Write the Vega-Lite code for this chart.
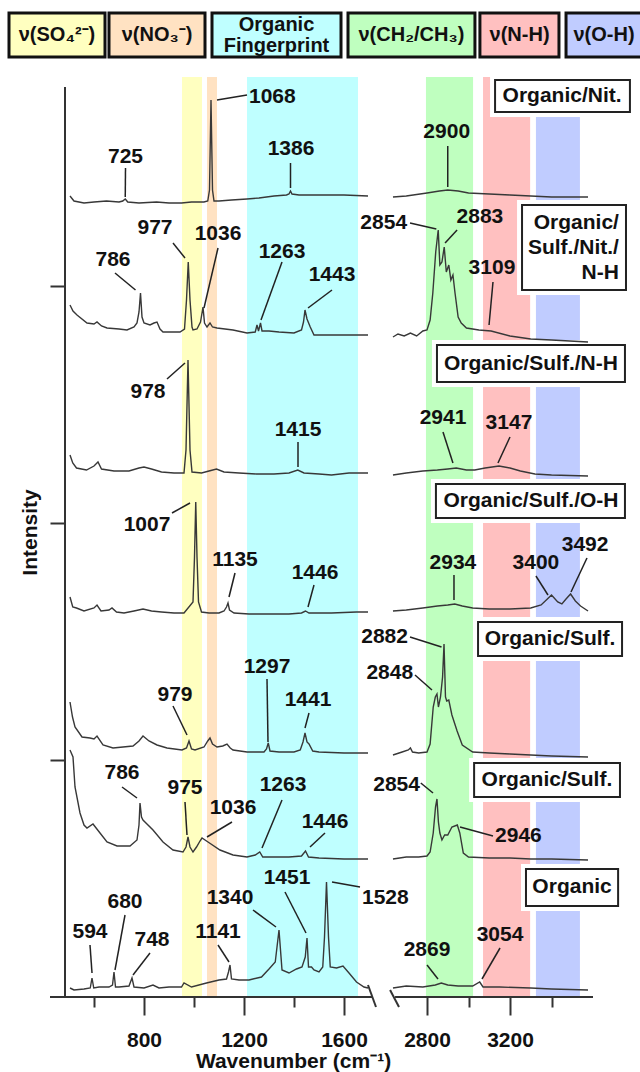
{
"$schema": "https://vega.github.io/schema/vega-lite/v6.json",
"width": 528, "height": 920,
"autosize": {"type": "none"},
"padding": {"left": 65, "top": 77, "right": 47, "bottom": 75},
"background": "white",
"config": {"view": {"stroke": null}, "font": "Liberation Sans"},
"resolve": {"axis": {"x": "independent", "y": "independent"}},
"datasets": {
"bands": [{"b":"SO4","x1":952,"x2":1032},{"b":"NO3","x1":1052,"x2":1092},{"b":"FP","x1":1212,"x2":1656},{"b":"CH","x1":2795,"x2":3022},{"b":"NH","x1":3070,"x2":3297},{"b":"OH","x1":3325,"x2":3537}],
"header": [{"b":"SO4","x1":260,"x2":644,"tx":452,"ty":962,"t":"ν(SO₄²⁻)"},{"b":"NO3","x1":660,"x2":1044,"tx":852,"ty":962,"t":"ν(NO₃⁻)"},{"b":"FP","x1":1072,"x2":1588,"tx":1330,"ty":972,"t":"Organic\nFingerprint"},{"b":"CH","x1":1616,"x2":3031,"tx":2725,"ty":962,"t":"ν(CH₂/CH₃)"},{"b":"NH","x1":3055,"x2":3436,"tx":3246,"ty":962,"t":"ν(N-H)"},{"b":"OH","x1":3470,"x2":3851,"tx":3653,"ty":962,"t":"ν(O-H)"}],
"boxes": [{"x1":3128,"x2":3778,"y1":917,"y2":885},{"x1":3258,"x2":3759,"y1":792,"y2":707},{"x1":2848,"x2":3754,"y1":652,"y2":615},{"x1":2843,"x2":3754,"y1":513,"y2":479},{"x1":3046,"x2":3740,"y1":375,"y2":341},{"x1":3027,"x2":3730,"y1":234,"y2":200},{"x1":3277,"x2":3721,"y1":128,"y2":91}],
"boxtext": [{"x":3451,"y":901,"t":"Organic/Nit."},{"x":3301,"y":633,"t":"Organic/Sulf./N-H"},{"x":3301,"y":496,"t":"Organic/Sulf./O-H"},{"x":3393,"y":358,"t":"Organic/Sulf."},{"x":3378,"y":217,"t":"Organic/Sulf."},{"x":3499,"y":110,"t":"Organic"}],
"boxtext3": [{"x":3725,"y":774,"t":"Organic/\nSulf./Nit./\nN-H"}],
"labelsC": [{"x":726,"y":840,"t":"725"},{"x":1388,"y":848,"t":"1386"},{"x":2895,"y":865,"t":"2900"},
{"x":676,"y":737,"t":"786"},{"x":844,"y":769,"t":"977"},{"x":1096,"y":763,"t":"1036"},{"x":1352,"y":745,"t":"1263"},{"x":1552,"y":722,"t":"1443"},{"x":3055,"y":780,"t":"2883"},{"x":3113,"y":729,"t":"3109"},
{"x":816,"y":605,"t":"978"},{"x":1416,"y":567,"t":"1415"},{"x":2877,"y":579,"t":"2941"},{"x":3195,"y":574,"t":"3147"},
{"x":812,"y":472,"t":"1007"},{"x":1164,"y":437,"t":"1135"},{"x":1484,"y":424,"t":"1446"},{"x":2925,"y":434,"t":"2934"},{"x":3325,"y":434,"t":"3400"},{"x":3562,"y":452,"t":"3492"},
{"x":924,"y":302,"t":"979"},{"x":1292,"y":330,"t":"1297"},{"x":1456,"y":297,"t":"1441"},
{"x":712,"y":224,"t":"786"},{"x":964,"y":209,"t":"975"},{"x":1156,"y":189,"t":"1036"},{"x":1356,"y":212,"t":"1263"},{"x":1524,"y":175,"t":"1446"},
{"x":584,"y":65,"t":"594"},{"x":724,"y":95,"t":"680"},{"x":832,"y":57,"t":"748"},{"x":1096,"y":65,"t":"1141"},{"x":1144,"y":99,"t":"1340"},{"x":1372,"y":119,"t":"1451"},{"x":2800,"y":47,"t":"2869"},{"x":3152,"y":62,"t":"3054"}],
"labelsL": [{"x":1220,"y":900,"t":"1068"},{"x":3128,"y":161,"t":"2946"},{"x":1672,"y":99,"t":"1528"}],
"labelsR": [{"x":2704,"y":774,"t":"2854"},{"x":2708,"y":360,"t":"2882"},{"x":2733,"y":324,"t":"2848"},{"x":2766,"y":212,"t":"2854"}],
"leaders": [{"x1":726,"y1":829,"x2":725,"y2":800},{"x1":1092,"y1":897,"x2":1212,"y2":902},{"x1":1386,"y1":834,"x2":1386,"y2":809},{"x1":2900,"y1":851,"x2":2900,"y2":810},
{"x1":684,"y1":724,"x2":766,"y2":707},{"x1":916,"y1":754,"x2":964,"y2":739},{"x1":1096,"y1":749,"x2":1040,"y2":689},{"x1":1352,"y1":735,"x2":1268,"y2":677},{"x1":1552,"y1":707,"x2":1456,"y2":689},{"x1":2718,"y1":774,"x2":2845,"y2":768},{"x1":2945,"y1":767,"x2":2887,"y2":754},{"x1":3118,"y1":715,"x2":3099,"y2":672},
{"x1":892,"y1":618,"x2":964,"y2":634},{"x1":1416,"y1":555,"x2":1416,"y2":530},{"x1":2877,"y1":565,"x2":2925,"y2":534},{"x1":3200,"y1":560,"x2":3142,"y2":534},
{"x1":912,"y1":484,"x2":984,"y2":494},{"x1":1164,"y1":424,"x2":1140,"y2":400},{"x1":1480,"y1":412,"x2":1456,"y2":390},{"x1":2930,"y1":422,"x2":2930,"y2":397},{"x1":3325,"y1":421,"x2":3383,"y2":402},{"x1":3571,"y1":439,"x2":3494,"y2":405},
{"x1":916,"y1":291,"x2":972,"y2":262},{"x1":1292,"y1":318,"x2":1296,"y2":255},{"x1":1460,"y1":284,"x2":1444,"y2":269},{"x1":2718,"y1":360,"x2":2870,"y2":350},{"x1":2742,"y1":322,"x2":2824,"y2":307},
{"x1":712,"y1":210,"x2":772,"y2":199},{"x1":964,"y1":195,"x2":972,"y2":162},{"x1":1152,"y1":175,"x2":1052,"y2":160},{"x1":1352,"y1":197,"x2":1272,"y2":149},{"x1":1524,"y1":164,"x2":1464,"y2":150},{"x1":2770,"y1":214,"x2":2829,"y2":204},{"x1":3118,"y1":161,"x2":2959,"y2":170},
{"x1":584,"y1":52,"x2":592,"y2":24},{"x1":724,"y1":82,"x2":684,"y2":27},{"x1":824,"y1":44,"x2":756,"y2":22},{"x1":1096,"y1":52,"x2":1140,"y2":35},{"x1":1236,"y1":87,"x2":1328,"y2":70},{"x1":1364,"y1":105,"x2":1448,"y2":64},{"x1":1552,"y1":115,"x2":1664,"y2":110},{"x1":2800,"y1":32,"x2":2853,"y2":18},{"x1":3152,"y1":49,"x2":3065,"y2":18}],
"axlines": [{"x1":424,"x2":1712},{"x1":2646,"x2":3600}],
"breaks": [{"x1":1696,"y1":12,"x2":1792,"y2":-10},{"x1":2622,"y1":7,"x2":2665,"y2":-10}],
"spectra": [
{"g":"1L","x":504,"y":801},{"g":"1L","x":520,"y":796},{"g":"1L","x":560,"y":794},{"g":"1L","x":600,"y":795},{"g":"1L","x":650,"y":796},{"g":"1L","x":700,"y":795},{"g":"1L","x":715,"y":796},{"g":"1L","x":725,"y":798},{"g":"1L","x":735,"y":795},{"g":"1L","x":780,"y":794},{"g":"1L","x":850,"y":795},{"g":"1L","x":900,"y":794},{"g":"1L","x":950,"y":794},{"g":"1L","x":990,"y":795},{"g":"1L","x":1040,"y":795},{"g":"1L","x":1055,"y":796},{"g":"1L","x":1062,"y":807},{"g":"1L","x":1068,"y":897},{"g":"1L","x":1074,"y":807},{"g":"1L","x":1080,"y":796},{"g":"1L","x":1100,"y":796},{"g":"1L","x":1150,"y":797},{"g":"1L","x":1212,"y":798},{"g":"1L","x":1260,"y":799},{"g":"1L","x":1320,"y":801},{"g":"1L","x":1370,"y":802},{"g":"1L","x":1380,"y":803},{"g":"1L","x":1386,"y":806},{"g":"1L","x":1392,"y":803},{"g":"1L","x":1420,"y":802},{"g":"1L","x":1500,"y":802},{"g":"1L","x":1600,"y":802},{"g":"1L","x":1696,"y":801},
{"g":"1R","x":2636,"y":800},{"g":"1R","x":2700,"y":801},{"g":"1R","x":2800,"y":804},{"g":"1R","x":2860,"y":806},{"g":"1R","x":2900,"y":807},{"g":"1R","x":2950,"y":806},{"g":"1R","x":3000,"y":804},{"g":"1R","x":3100,"y":803},{"g":"1R","x":3200,"y":802},{"g":"1R","x":3300,"y":801},{"g":"1R","x":3400,"y":800},{"g":"1R","x":3576,"y":800},
{"g":"2L","x":504,"y":692},{"g":"2L","x":516,"y":686},{"g":"2L","x":532,"y":682},{"g":"2L","x":572,"y":674},{"g":"2L","x":600,"y":673},{"g":"2L","x":612,"y":675},{"g":"2L","x":630,"y":671},{"g":"2L","x":652,"y":669},{"g":"2L","x":700,"y":668},{"g":"2L","x":732,"y":667},{"g":"2L","x":760,"y":670},{"g":"2L","x":772,"y":674},{"g":"2L","x":780,"y":685},{"g":"2L","x":786,"y":704},{"g":"2L","x":792,"y":680},{"g":"2L","x":800,"y":674},{"g":"2L","x":824,"y":672},{"g":"2L","x":840,"y":674},{"g":"2L","x":852,"y":675},{"g":"2L","x":864,"y":668},{"g":"2L","x":876,"y":665},{"g":"2L","x":944,"y":665},{"g":"2L","x":962,"y":668},{"g":"2L","x":970,"y":697},{"g":"2L","x":977,"y":735},{"g":"2L","x":984,"y":697},{"g":"2L","x":992,"y":670},{"g":"2L","x":996,"y":667},{"g":"2L","x":1012,"y":668},{"g":"2L","x":1026,"y":675},{"g":"2L","x":1036,"y":690},{"g":"2L","x":1042,"y":674},{"g":"2L","x":1052,"y":670},{"g":"2L","x":1064,"y":674},{"g":"2L","x":1074,"y":670},{"g":"2L","x":1092,"y":669},{"g":"2L","x":1156,"y":667},{"g":"2L","x":1212,"y":664},{"g":"2L","x":1245,"y":665},{"g":"2L","x":1252,"y":672},{"g":"2L","x":1258,"y":666},{"g":"2L","x":1266,"y":674},{"g":"2L","x":1272,"y":666},{"g":"2L","x":1300,"y":666},{"g":"2L","x":1340,"y":665},{"g":"2L","x":1400,"y":664},{"g":"2L","x":1430,"y":667},{"g":"2L","x":1438,"y":675},{"g":"2L","x":1444,"y":687},{"g":"2L","x":1452,"y":678},{"g":"2L","x":1465,"y":670},{"g":"2L","x":1480,"y":662},{"g":"2L","x":1550,"y":662},{"g":"2L","x":1650,"y":662},{"g":"2L","x":1696,"y":662},
{"g":"2R","x":2636,"y":660},{"g":"2R","x":2660,"y":663},{"g":"2R","x":2690,"y":661},{"g":"2R","x":2720,"y":664},{"g":"2R","x":2750,"y":661},{"g":"2R","x":2780,"y":666},{"g":"2R","x":2800,"y":667},{"g":"2R","x":2815,"y":677},{"g":"2R","x":2828,"y":704},{"g":"2R","x":2842,"y":745},{"g":"2R","x":2854,"y":767},{"g":"2R","x":2862,"y":732},{"g":"2R","x":2872,"y":735},{"g":"2R","x":2883,"y":750},{"g":"2R","x":2893,"y":725},{"g":"2R","x":2905,"y":732},{"g":"2R","x":2915,"y":717},{"g":"2R","x":2925,"y":722},{"g":"2R","x":2935,"y":704},{"g":"2R","x":2950,"y":680},{"g":"2R","x":2965,"y":674},{"g":"2R","x":2990,"y":669},{"g":"2R","x":3050,"y":667},{"g":"2R","x":3109,"y":666},{"g":"2R","x":3200,"y":661},{"g":"2R","x":3300,"y":658},{"g":"2R","x":3400,"y":657},{"g":"2R","x":3576,"y":655},
{"g":"3L","x":504,"y":542},{"g":"3L","x":515,"y":534},{"g":"3L","x":530,"y":529},{"g":"3L","x":570,"y":527},{"g":"3L","x":600,"y":531},{"g":"3L","x":616,"y":535},{"g":"3L","x":630,"y":528},{"g":"3L","x":680,"y":526},{"g":"3L","x":740,"y":526},{"g":"3L","x":780,"y":529},{"g":"3L","x":800,"y":530},{"g":"3L","x":830,"y":528},{"g":"3L","x":870,"y":525},{"g":"3L","x":920,"y":524},{"g":"3L","x":960,"y":524},{"g":"3L","x":968,"y":547},{"g":"3L","x":976,"y":637},{"g":"3L","x":984,"y":547},{"g":"3L","x":992,"y":525},{"g":"3L","x":1030,"y":524},{"g":"3L","x":1060,"y":526},{"g":"3L","x":1090,"y":528},{"g":"3L","x":1120,"y":525},{"g":"3L","x":1180,"y":524},{"g":"3L","x":1250,"y":523},{"g":"3L","x":1320,"y":523},{"g":"3L","x":1380,"y":524},{"g":"3L","x":1415,"y":527},{"g":"3L","x":1440,"y":524},{"g":"3L","x":1500,"y":523},{"g":"3L","x":1550,"y":522},{"g":"3L","x":1620,"y":524},{"g":"3L","x":1696,"y":524},
{"g":"3R","x":2636,"y":522},{"g":"3R","x":2700,"y":524},{"g":"3R","x":2780,"y":526},{"g":"3R","x":2850,"y":527},{"g":"3R","x":2900,"y":528},{"g":"3R","x":2941,"y":529},{"g":"3R","x":2990,"y":527},{"g":"3R","x":3030,"y":527},{"g":"3R","x":3080,"y":529},{"g":"3R","x":3147,"y":531},{"g":"3R","x":3200,"y":529},{"g":"3R","x":3250,"y":526},{"g":"3R","x":3320,"y":523},{"g":"3R","x":3400,"y":522},{"g":"3R","x":3576,"y":521},
{"g":"4L","x":504,"y":400},{"g":"4L","x":515,"y":390},{"g":"4L","x":530,"y":389},{"g":"4L","x":560,"y":386},{"g":"4L","x":600,"y":389},{"g":"4L","x":612,"y":392},{"g":"4L","x":628,"y":386},{"g":"4L","x":660,"y":387},{"g":"4L","x":672,"y":389},{"g":"4L","x":690,"y":385},{"g":"4L","x":720,"y":384},{"g":"4L","x":760,"y":386},{"g":"4L","x":796,"y":388},{"g":"4L","x":830,"y":386},{"g":"4L","x":870,"y":385},{"g":"4L","x":920,"y":384},{"g":"4L","x":960,"y":384},{"g":"4L","x":996,"y":395},{"g":"4L","x":1002,"y":440},{"g":"4L","x":1007,"y":495},{"g":"4L","x":1012,"y":440},{"g":"4L","x":1018,"y":395},{"g":"4L","x":1030,"y":385},{"g":"4L","x":1060,"y":384},{"g":"4L","x":1100,"y":384},{"g":"4L","x":1120,"y":386},{"g":"4L","x":1130,"y":390},{"g":"4L","x":1136,"y":394},{"g":"4L","x":1142,"y":387},{"g":"4L","x":1160,"y":384},{"g":"4L","x":1220,"y":383},{"g":"4L","x":1300,"y":383},{"g":"4L","x":1380,"y":383},{"g":"4L","x":1430,"y":384},{"g":"4L","x":1446,"y":386},{"g":"4L","x":1460,"y":384},{"g":"4L","x":1550,"y":384},{"g":"4L","x":1650,"y":385},{"g":"4L","x":1696,"y":385},
{"g":"4R","x":2636,"y":386},{"g":"4R","x":2700,"y":387},{"g":"4R","x":2780,"y":389},{"g":"4R","x":2850,"y":391},{"g":"4R","x":2900,"y":392},{"g":"4R","x":2934,"y":393},{"g":"4R","x":2970,"y":391},{"g":"4R","x":3020,"y":389},{"g":"4R","x":3100,"y":388},{"g":"4R","x":3200,"y":388},{"g":"4R","x":3300,"y":389},{"g":"4R","x":3350,"y":392},{"g":"4R","x":3380,"y":398},{"g":"4R","x":3400,"y":402},{"g":"4R","x":3430,"y":395},{"g":"4R","x":3450,"y":393},{"g":"4R","x":3470,"y":398},{"g":"4R","x":3492,"y":403},{"g":"4R","x":3515,"y":396},{"g":"4R","x":3540,"y":391},{"g":"4R","x":3576,"y":386},
{"g":"5L","x":504,"y":295},{"g":"5L","x":514,"y":280},{"g":"5L","x":524,"y":270},{"g":"5L","x":552,"y":260},{"g":"5L","x":584,"y":259},{"g":"5L","x":600,"y":258},{"g":"5L","x":612,"y":261},{"g":"5L","x":636,"y":252},{"g":"5L","x":676,"y":249},{"g":"5L","x":756,"y":251},{"g":"5L","x":780,"y":256},{"g":"5L","x":796,"y":261},{"g":"5L","x":820,"y":256},{"g":"5L","x":852,"y":252},{"g":"5L","x":892,"y":249},{"g":"5L","x":952,"y":247},{"g":"5L","x":970,"y":249},{"g":"5L","x":980,"y":256},{"g":"5L","x":990,"y":248},{"g":"5L","x":1004,"y":247},{"g":"5L","x":1040,"y":250},{"g":"5L","x":1055,"y":256},{"g":"5L","x":1064,"y":259},{"g":"5L","x":1074,"y":253},{"g":"5L","x":1092,"y":250},{"g":"5L","x":1115,"y":251},{"g":"5L","x":1132,"y":253},{"g":"5L","x":1145,"y":249},{"g":"5L","x":1156,"y":247},{"g":"5L","x":1212,"y":245},{"g":"5L","x":1280,"y":245},{"g":"5L","x":1290,"y":248},{"g":"5L","x":1297,"y":254},{"g":"5L","x":1304,"y":246},{"g":"5L","x":1340,"y":245},{"g":"5L","x":1400,"y":245},{"g":"5L","x":1425,"y":247},{"g":"5L","x":1436,"y":255},{"g":"5L","x":1444,"y":264},{"g":"5L","x":1452,"y":255},{"g":"5L","x":1460,"y":253},{"g":"5L","x":1475,"y":246},{"g":"5L","x":1500,"y":245},{"g":"5L","x":1600,"y":244},{"g":"5L","x":1696,"y":244},
{"g":"5R","x":2636,"y":242},{"g":"5R","x":2680,"y":245},{"g":"5R","x":2710,"y":247},{"g":"5R","x":2720,"y":249},{"g":"5R","x":2730,"y":245},{"g":"5R","x":2760,"y":244},{"g":"5R","x":2800,"y":245},{"g":"5R","x":2815,"y":253},{"g":"5R","x":2830,"y":290},{"g":"5R","x":2840,"y":300},{"g":"5R","x":2848,"y":303},{"g":"5R","x":2855,"y":290},{"g":"5R","x":2865,"y":300},{"g":"5R","x":2875,"y":320},{"g":"5R","x":2882,"y":353},{"g":"5R","x":2889,"y":300},{"g":"5R","x":2895,"y":296},{"g":"5R","x":2905,"y":297},{"g":"5R","x":2920,"y":282},{"g":"5R","x":2945,"y":266},{"g":"5R","x":2970,"y":252},{"g":"5R","x":3020,"y":245},{"g":"5R","x":3100,"y":244},{"g":"5R","x":3200,"y":243},{"g":"5R","x":3300,"y":242},{"g":"5R","x":3400,"y":241},{"g":"5R","x":3576,"y":240},
{"g":"6L","x":504,"y":247},{"g":"6L","x":516,"y":240},{"g":"6L","x":524,"y":210},{"g":"6L","x":544,"y":184},{"g":"6L","x":560,"y":172},{"g":"6L","x":572,"y":169},{"g":"6L","x":596,"y":173},{"g":"6L","x":624,"y":164},{"g":"6L","x":652,"y":155},{"g":"6L","x":692,"y":151},{"g":"6L","x":744,"y":151},{"g":"6L","x":772,"y":157},{"g":"6L","x":780,"y":172},{"g":"6L","x":784,"y":194},{"g":"6L","x":790,"y":180},{"g":"6L","x":796,"y":177},{"g":"6L","x":836,"y":167},{"g":"6L","x":876,"y":155},{"g":"6L","x":916,"y":147},{"g":"6L","x":956,"y":145},{"g":"6L","x":968,"y":150},{"g":"6L","x":976,"y":160},{"g":"6L","x":984,"y":150},{"g":"6L","x":996,"y":145},{"g":"6L","x":1010,"y":150},{"g":"6L","x":1024,"y":156},{"g":"6L","x":1032,"y":159},{"g":"6L","x":1056,"y":155},{"g":"6L","x":1104,"y":147},{"g":"6L","x":1156,"y":142},{"g":"6L","x":1212,"y":140},{"g":"6L","x":1245,"y":142},{"g":"6L","x":1263,"y":145},{"g":"6L","x":1275,"y":140},{"g":"6L","x":1320,"y":140},{"g":"6L","x":1380,"y":140},{"g":"6L","x":1430,"y":141},{"g":"6L","x":1446,"y":146},{"g":"6L","x":1458,"y":140},{"g":"6L","x":1500,"y":139},{"g":"6L","x":1600,"y":138},{"g":"6L","x":1696,"y":138},
{"g":"6R","x":2636,"y":138},{"g":"6R","x":2700,"y":140},{"g":"6R","x":2760,"y":140},{"g":"6R","x":2800,"y":141},{"g":"6R","x":2815,"y":145},{"g":"6R","x":2830,"y":164},{"g":"6R","x":2841,"y":190},{"g":"6R","x":2848,"y":198},{"g":"6R","x":2855,"y":175},{"g":"6R","x":2862,"y":164},{"g":"6R","x":2872,"y":157},{"g":"6R","x":2885,"y":162},{"g":"6R","x":2900,"y":162},{"g":"6R","x":2920,"y":170},{"g":"6R","x":2946,"y":172},{"g":"6R","x":2958,"y":164},{"g":"6R","x":2975,"y":144},{"g":"6R","x":3000,"y":140},{"g":"6R","x":3100,"y":139},{"g":"6R","x":3200,"y":139},{"g":"6R","x":3300,"y":138},{"g":"6R","x":3400,"y":138},{"g":"6R","x":3576,"y":137},
{"g":"7L","x":504,"y":9},{"g":"7L","x":520,"y":7},{"g":"7L","x":560,"y":8},{"g":"7L","x":585,"y":9},{"g":"7L","x":592,"y":19},{"g":"7L","x":599,"y":9},{"g":"7L","x":620,"y":10},{"g":"7L","x":660,"y":10},{"g":"7L","x":674,"y":12},{"g":"7L","x":680,"y":25},{"g":"7L","x":686,"y":10},{"g":"7L","x":700,"y":10},{"g":"7L","x":740,"y":11},{"g":"7L","x":752,"y":19},{"g":"7L","x":760,"y":10},{"g":"7L","x":800,"y":9},{"g":"7L","x":836,"y":12},{"g":"7L","x":860,"y":9},{"g":"7L","x":900,"y":10},{"g":"7L","x":950,"y":10},{"g":"7L","x":960,"y":14},{"g":"7L","x":990,"y":10},{"g":"7L","x":1050,"y":14},{"g":"7L","x":1100,"y":17},{"g":"7L","x":1130,"y":18},{"g":"7L","x":1138,"y":25},{"g":"7L","x":1144,"y":32},{"g":"7L","x":1150,"y":18},{"g":"7L","x":1180,"y":17},{"g":"7L","x":1220,"y":17},{"g":"7L","x":1270,"y":20},{"g":"7L","x":1300,"y":28},{"g":"7L","x":1325,"y":35},{"g":"7L","x":1340,"y":67},{"g":"7L","x":1352,"y":27},{"g":"7L","x":1380,"y":24},{"g":"7L","x":1410,"y":28},{"g":"7L","x":1432,"y":30},{"g":"7L","x":1445,"y":40},{"g":"7L","x":1452,"y":59},{"g":"7L","x":1458,"y":30},{"g":"7L","x":1470,"y":30},{"g":"7L","x":1480,"y":27},{"g":"7L","x":1500,"y":25},{"g":"7L","x":1515,"y":30},{"g":"7L","x":1522,"y":60},{"g":"7L","x":1530,"y":115},{"g":"7L","x":1538,"y":60},{"g":"7L","x":1545,"y":30},{"g":"7L","x":1570,"y":29},{"g":"7L","x":1596,"y":31},{"g":"7L","x":1620,"y":24},{"g":"7L","x":1650,"y":15},{"g":"7L","x":1680,"y":10},{"g":"7L","x":1696,"y":9},
{"g":"7R","x":2636,"y":9},{"g":"7R","x":2700,"y":11},{"g":"7R","x":2780,"y":10},{"g":"7R","x":2840,"y":12},{"g":"7R","x":2869,"y":14},{"g":"7R","x":2900,"y":12},{"g":"7R","x":2950,"y":11},{"g":"7R","x":3020,"y":11},{"g":"7R","x":3054,"y":15},{"g":"7R","x":3070,"y":10},{"g":"7R","x":3150,"y":10},{"g":"7R","x":3300,"y":9},{"g":"7R","x":3400,"y":8},{"g":"7R","x":3576,"y":7}
]
},
"layer": [
{"data": {"name": "bands"}, "mark": {"type": "rect"},
 "encoding": {
  "x": {"field": "x1", "type": "quantitative",
        "scale": {"type": "linear", "domain": [484, 1724, 2612, 3600], "range": [0, 310, 323, 528], "zero": false, "nice": false},
        "axis": {"orient": "bottom", "values": [600,800,1000,1200,1400,1600,2800,3000,3200,3400], "domain": false, "grid": false,
                 "tickColor": "#333", "tickWidth": 2,
                 "tickSize": {"condition": {"test": "datum.value % 400 === 0", "value": 18}, "value": 10},
                 "labelExpr": "datum.value % 400 === 0 ? '' + datum.value : ''",
                 "labelFont": "Liberation Sans", "labelFontSize": 21, "labelFontWeight": "bold", "labelColor": "#111",
                 "labelPadding": 14, "labelOverlap": false, "labelFlush": false,
                 "title": "Wavenumber (cm⁻¹)", "titleFont": "Liberation Sans", "titleFontSize": 21, "titleFontWeight": "bold", "titleColor": "#111",
                 "titleX": 228, "titleY": 64, "titleBaseline": "middle"}},
  "x2": {"field": "x2"},
  "y": {"datum": 0, "type": "quantitative",
        "scale": {"domain": [0, 920], "zero": false, "nice": false},
        "axis": {"orient": "left", "values": [237, 474, 711], "domain": false, "labels": false, "grid": false, "tickSize": 15, "tickWidth": 2, "tickColor": "#333",
                 "title": "Intensity", "titleFont": "Liberation Sans", "titleFontSize": 21, "titleFontWeight": "bold", "titleColor": "#111",
                 "titleX": -35, "titleY": 455, "titleBaseline": "middle", "titleAngle": -90}},
  "y2": {"datum": 920},
  "fill": {"field": "b", "type": "nominal", "legend": null,
           "scale": {"domain": ["SO4","NO3","FP","CH","NH","OH"], "range": ["#FFFFC0","#FFE2C2","#BFFFFF","#BFFFBF","#FFC0C0","#C0CCFF"]}}}},
{"data": {"name": "header"}, "mark": {"type": "rect", "stroke": "#111", "strokeWidth": 3},
 "encoding": {"x": {"field": "x1", "type": "quantitative", "axis": null}, "x2": {"field": "x2"},
  "y": {"datum": 984, "type": "quantitative", "axis": null}, "y2": {"datum": 940},
  "fill": {"field": "b", "type": "nominal", "legend": null}}},
{"data": {"name": "header"}, "mark": {"type": "text", "fontSize": 20, "fontWeight": "bold", "color": "#111", "lineBreak": "\n", "lineHeight": 21, "baseline": "middle", "align": "center"},
 "encoding": {"x": {"field": "tx", "type": "quantitative", "axis": null}, "y": {"field": "ty", "type": "quantitative", "axis": null}, "text": {"field": "t"}}},
{"data": {"name": "boxes"}, "mark": {"type": "rect", "fill": "white", "stroke": "white", "strokeWidth": 10},
 "encoding": {"x": {"field": "x1", "type": "quantitative", "axis": null}, "x2": {"field": "x2"}, "y": {"field": "y1", "type": "quantitative", "axis": null}, "y2": {"field": "y2"}}},
{"data": {"name": "spectra"}, "mark": {"type": "line", "color": "#383838", "strokeWidth": 1.4},
 "encoding": {"x": {"field": "x", "type": "quantitative", "axis": null}, "y": {"field": "y", "type": "quantitative", "axis": null}, "detail": {"field": "g"}}},
{"data": {"name": "leaders"}, "mark": {"type": "rule", "color": "#222", "strokeWidth": 1.5},
 "encoding": {"x": {"field": "x1", "type": "quantitative", "axis": null}, "x2": {"field": "x2"}, "y": {"field": "y1", "type": "quantitative", "axis": null}, "y2": {"field": "y2"}}},
{"data": {"name": "labelsC"}, "mark": {"type": "text", "fontSize": 21, "fontWeight": "bold", "color": "#111", "baseline": "middle", "align": "center"},
 "encoding": {"x": {"field": "x", "type": "quantitative", "axis": null}, "y": {"field": "y", "type": "quantitative", "axis": null}, "text": {"field": "t"}}},
{"data": {"name": "labelsL"}, "mark": {"type": "text", "fontSize": 21, "fontWeight": "bold", "color": "#111", "baseline": "middle", "align": "left"},
 "encoding": {"x": {"field": "x", "type": "quantitative", "axis": null}, "y": {"field": "y", "type": "quantitative", "axis": null}, "text": {"field": "t"}}},
{"data": {"name": "labelsR"}, "mark": {"type": "text", "fontSize": 21, "fontWeight": "bold", "color": "#111", "baseline": "middle", "align": "right"},
 "encoding": {"x": {"field": "x", "type": "quantitative", "axis": null}, "y": {"field": "y", "type": "quantitative", "axis": null}, "text": {"field": "t"}}},
{"data": {"name": "boxes"}, "mark": {"type": "rect", "fill": "white", "fillOpacity": 0, "stroke": "#222", "strokeWidth": 2},
 "encoding": {"x": {"field": "x1", "type": "quantitative", "axis": null}, "x2": {"field": "x2"}, "y": {"field": "y1", "type": "quantitative", "axis": null}, "y2": {"field": "y2"}}},
{"data": {"name": "boxtext"}, "mark": {"type": "text", "fontSize": 21, "fontWeight": "bold", "color": "#111", "baseline": "middle", "align": "center"},
 "encoding": {"x": {"field": "x", "type": "quantitative", "axis": null}, "y": {"field": "y", "type": "quantitative", "axis": null}, "text": {"field": "t"}}},
{"data": {"name": "boxtext3"}, "mark": {"type": "text", "fontSize": 21, "fontWeight": "bold", "color": "#111", "baseline": "middle", "align": "right", "lineBreak": "\n", "lineHeight": 25},
 "encoding": {"x": {"field": "x", "type": "quantitative", "axis": null}, "y": {"field": "y", "type": "quantitative", "axis": null}, "text": {"field": "t"}}},
{"data": {"name": "axlines"}, "mark": {"type": "rule", "color": "#333", "strokeWidth": 2},
 "encoding": {"x": {"field": "x1", "type": "quantitative", "axis": null}, "x2": {"field": "x2"}, "y": {"datum": 0, "type": "quantitative", "axis": null}}},
{"data": {"name": "breaks"}, "mark": {"type": "rule", "color": "#333", "strokeWidth": 2},
 "encoding": {"x": {"field": "x1", "type": "quantitative", "axis": null}, "x2": {"field": "x2"}, "y": {"field": "y1", "type": "quantitative", "axis": null}, "y2": {"field": "y2"}}},
{"data": {"values": [{"x": 484, "y1": -1, "y2": 910}]}, "mark": {"type": "rule", "color": "#333", "strokeWidth": 2},
 "encoding": {"x": {"field": "x", "type": "quantitative", "axis": null}, "y": {"field": "y1", "type": "quantitative", "axis": null}, "y2": {"field": "y2"}}}
]
}
